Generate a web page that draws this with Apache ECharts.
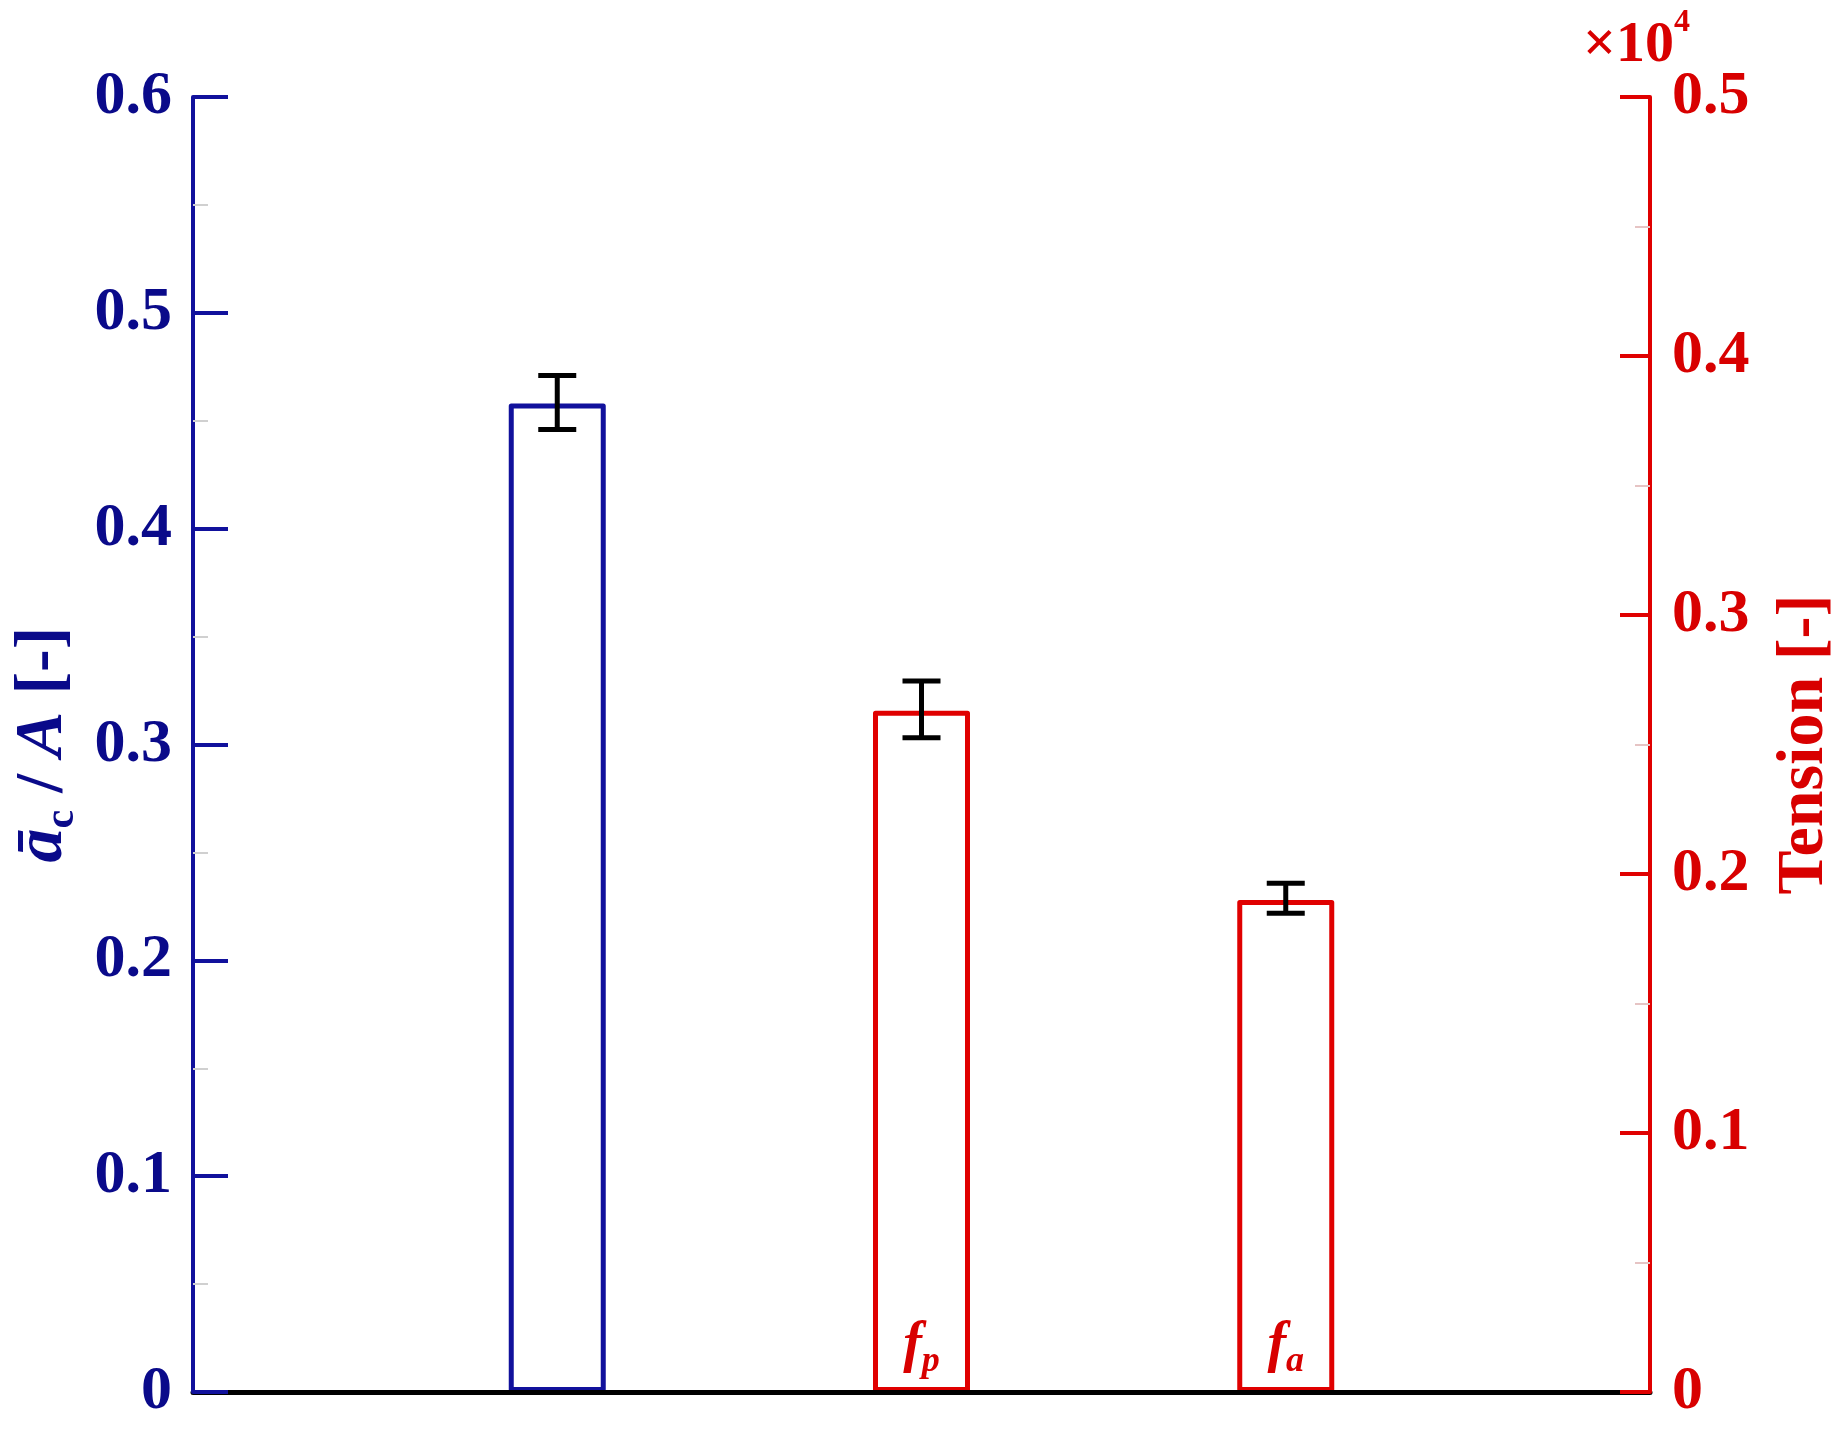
<!DOCTYPE html>
<html><head><meta charset="utf-8">
<script src="https://cdn.jsdelivr.net/npm/echarts@6/dist/echarts.min.js"></script>
<style>html,body{margin:0;padding:0;background:#fff}#c{width:1846px;height:1446px}</style>
</head><body><div id="c"></div>
<script>
// ---- data ----
const categories = ['ac', 'fp', 'fa'];
const slots = [1, 2, 3];                 // category slots on a 0..4 x range
const ratioValues = [0.458];             // ā_c / A (left axis)
const ratioErrLow = [0.446];
const ratioErrHigh = [0.471];
const tensionValues = [2630, 1900];      // Tension (right axis)
const tensionErrLow = [2526, 1848];
const tensionErrHigh = [2745, 1964];
const tensionSubs = ['p', 'a'];
const leftTicks = { min: 0, max: 0.6, interval: 0.1 };
const rightTicks = { min: 0, max: 5000, interval: 1000 };

const BLUE = '#11119c', BLUE_T = '#0a0a8a';
const RED = '#e00000', RED_T = '#d80000';
const SERIF = '"Liberation Serif", "Times New Roman", serif';

function renderErr(params, api) {
  const x = api.value(0), lo = api.value(1), hi = api.value(2);
  const pLo = api.coord([x, lo]), pHi = api.coord([x, hi]);
  const hw = 19;
  const style = { stroke: '#000', lineWidth: 5 };
  return { type: 'group', children: [
    { type: 'line', shape: { x1: pLo[0], y1: pLo[1], x2: pHi[0], y2: pHi[1] }, style },
    { type: 'line', shape: { x1: pLo[0] - hw, y1: pLo[1], x2: pLo[0] + hw, y2: pLo[1] }, style },
    { type: 'line', shape: { x1: pHi[0] - hw, y1: pHi[1], x2: pHi[0] + hw, y2: pHi[1] }, style }
  ]};
}

const chart = echarts.init(document.getElementById('c'), null, { renderer: 'canvas' });
chart.setOption({
  animation: false,
  backgroundColor: '#fff',
  title: {
    text: '{x|×10}{s|4}',
    left: 1578, top: 2,
    textStyle: { rich: {
      x: { fontFamily: SERIF, fontWeight: 'bold', fontSize: 58, color: RED_T, lineHeight: 68, verticalAlign: 'bottom' },
      s: { fontFamily: SERIF, fontWeight: 'bold', fontSize: 32, color: RED_T, lineHeight: 68, verticalAlign: 'top' }
    } }
  },
  grid: { left: 193, right: 196, top: 97, bottom: 54, containLabel: false },
  xAxis: {
    type: 'value', min: 0, max: 4, z: 3,
    axisLine: { show: true, lineStyle: { color: '#000', width: 5 } },
    axisTick: { show: false }, axisLabel: { show: false }, splitLine: { show: false }
  },
  yAxis: [{
    type: 'value', position: 'left', z: 4,
    min: leftTicks.min, max: leftTicks.max, interval: leftTicks.interval,
    axisLine: { show: true, lineStyle: { color: BLUE, width: 4 } },
    axisTick: { show: true, inside: true, length: 35, lineStyle: { color: BLUE, width: 4 } },
    minorTick: { show: true, splitNumber: 2, length: 15, lineStyle: { color: '#d0d0d0', width: 2 } },
    splitLine: { show: false },
    axisLabel: {
      margin: 21, color: BLUE_T, fontFamily: SERIF, fontWeight: 'bold', fontSize: 62,
      formatter: v => v === 0 ? '0' : v.toFixed(1)
    },
    name: '{ia|ā}{sc|c}{n| / }{ib|A}{n| [-]}',
    nameLocation: 'middle', nameGap: 106,
    nameTextStyle: { rich: {
      ia: { fontFamily: SERIF, fontWeight: 'bold', fontStyle: 'italic', fontSize: 68, color: BLUE_T, lineHeight: 80, verticalAlign: 'middle' },
      sc: { fontFamily: SERIF, fontWeight: 'bold', fontSize: 42, color: BLUE_T, lineHeight: 54, verticalAlign: 'bottom' },
      ib: { fontFamily: SERIF, fontWeight: 'bold', fontStyle: 'italic', fontSize: 68, color: BLUE_T, lineHeight: 80, verticalAlign: 'middle' },
      n: { fontFamily: SERIF, fontWeight: 'bold', fontSize: 68, color: BLUE_T, lineHeight: 80, verticalAlign: 'middle' }
    } }
  }, {
    type: 'value', position: 'right', z: 4,
    min: rightTicks.min, max: rightTicks.max, interval: rightTicks.interval,
    axisLine: { show: true, lineStyle: { color: RED, width: 4 } },
    axisTick: { show: true, inside: true, length: 30, lineStyle: { color: RED, width: 4 } },
    minorTick: { show: true, splitNumber: 2, length: 15, lineStyle: { color: '#e6c4c4', width: 2 } },
    splitLine: { show: false },
    axisLabel: {
      margin: 22, color: RED_T, fontFamily: SERIF, fontWeight: 'bold', fontSize: 62,
      formatter: v => v === 0 ? '0' : (v / 10000).toFixed(1)
    },
    name: 'Tension [-]',
    nameLocation: 'middle', nameGap: 122,
    nameTextStyle: { fontFamily: SERIF, fontWeight: 'bold', fontSize: 66, color: RED_T }
  }],
  series: [{
    type: 'bar', name: categories[0], yAxisIndex: 0,
    barWidth: 97, barGap: '-100%',
    data: ratioValues.map((v, i) => [slots[i], v]),
    itemStyle: { color: 'rgba(0,0,0,0)', borderColor: BLUE, borderWidth: 5, borderJoin: 'round' },
    emphasis: { disabled: true }
  }, {
    type: 'bar', name: 'tension', yAxisIndex: 1,
    barWidth: 97, barGap: '-100%',
    data: tensionValues.map((v, i) => [slots[i + 1], v]),
    itemStyle: { color: 'rgba(0,0,0,0)', borderColor: RED, borderWidth: 5, borderJoin: 'round' },
    emphasis: { disabled: true },
    label: {
      show: true, position: 'insideBottom', distance: 12,
      formatter: p => '{f|f}{s|' + tensionSubs[p.dataIndex] + '}',
      rich: {
        f: { fontFamily: SERIF, fontWeight: 'bold', fontStyle: 'italic', fontSize: 56, color: RED_T, lineHeight: 66, verticalAlign: 'middle' },
        s: { fontFamily: SERIF, fontWeight: 'bold', fontStyle: 'italic', fontSize: 36, color: RED_T, lineHeight: 44, verticalAlign: 'bottom' }
      }
    }
  }, {
    type: 'custom', yAxisIndex: 0, z: 6,
    renderItem: renderErr,
    encode: { x: 0, y: [1, 2] },
    data: ratioErrLow.map((lo, i) => [slots[i], lo, ratioErrHigh[i]])
  }, {
    type: 'custom', yAxisIndex: 1, z: 6,
    renderItem: renderErr,
    encode: { x: 0, y: [1, 2] },
    data: tensionErrLow.map((lo, i) => [slots[i + 1], lo, tensionErrHigh[i]])
  }]
});
</script>
</body></html>
